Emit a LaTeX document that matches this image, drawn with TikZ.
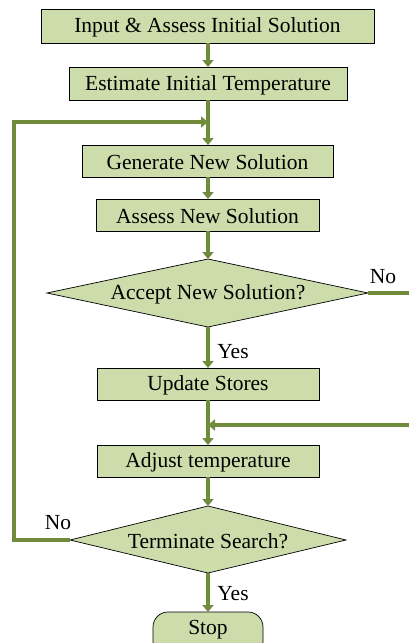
\documentclass[tikz,border=0pt]{standalone}
\usepackage{fontspec}
\setmainfont{Liberation Serif}
\usetikzlibrary{arrows.meta}
\definecolor{boxfill}{HTML}{CCDCAA}
\definecolor{flow}{HTML}{6F8B3B}
\begin{document}
\begin{tikzpicture}[x=1pt,y=-1pt,
  proc/.style={draw=black,line width=0.7pt,fill=boxfill,inner sep=0pt},
  flowline/.style={draw=flow,line width=3.8pt},
  flowarrow/.style={flowline,-{Triangle[length=7pt,width=11pt]}},
  lbl/.style={font=\fontsize{21.5}{24}\selectfont,inner sep=0pt,yshift=-1.5pt}]
\useasboundingbox (0,0) rectangle (409,643);
% boxes
\path[proc] (41,9) rectangle (374,43);
\node[lbl] (n1) at (207.5,26) {Input \& Assess Initial Solution};
\path[proc] (69,67) rectangle (347,100);
\node[lbl] (n2) at (208,83.5) {Estimate Initial Temperature};
\path[proc] (82,145) rectangle (333,177);
\node[lbl] (n3) at (207.5,161) {Generate New Solution};
\path[proc] (96,199) rectangle (319,231);
\node[lbl] (n4) at (207.5,215) {Assess New Solution};
\path[proc] (47,293) -- (208,259) -- (368,293) -- (208,327) -- cycle;
\node[lbl] (d1) at (208,293) {Accept New Solution?};
\path[proc] (97,368) rectangle (319,400);
\node[lbl] (n5) at (208,384) {Update Stores};
\path[proc] (97,445) rectangle (319,477);
\node[lbl] (n6) at (208,461) {Adjust temperature};
\path[proc] (70,540) -- (208,506) -- (346,540) -- (208,573) -- cycle;
\node[lbl] (d2) at (208,540) {Terminate Search?};
\path[proc,rounded corners=15pt] (153,612) rectangle (263,660);
\node[lbl] (stop) at (208,628) {Stop};
% coordinates
\coordinate (b1) at (208,43);
\coordinate (t2) at (208,67);
\coordinate (b2) at (208,100);
\coordinate (t3) at (208,145);
\coordinate (b3) at (208,177);
\coordinate (t4) at (208,199);
\coordinate (b4) at (208,231);
\coordinate (td1) at (208,259);
\coordinate (bd1) at (208,327);
\coordinate (rd1) at (368,293);
\coordinate (t5) at (208,368);
\coordinate (b5) at (208,400);
\coordinate (t6) at (208,445);
\coordinate (b6) at (208,477);
\coordinate (td2) at (208,506);
\coordinate (bd2) at (208,573);
\coordinate (ld2) at (70,540);
\coordinate (tstop) at (208,612);
\coordinate (join1) at (208,122);
\coordinate (join2) at (208,425);
\coordinate (redge1) at (411,293);
\coordinate (redge2) at (411,425);
% connectors
\draw[flowarrow] (b1) -- (t2);
\draw[flowarrow] (b2) -- (t3);
\draw[flowarrow] (b3) -- (t4);
\draw[flowarrow] (b4) -- (td1);
\draw[flowarrow] (bd1) -- (t5);
\draw[flowarrow] (b5) -- (t6);
\draw[flowarrow] (b6) -- (td2);
\draw[flowarrow] (bd2) -- (tstop);
\draw[flowline] (rd1) -- (redge1);
\draw[flowarrow] (redge2) -- (join2);
\draw[flowarrow] (ld2) -| (14,122) -- (join1);
% labels
\node[lbl] (no1) at (383,275) {No};
\node[lbl] (yes1) at (233,350) {Yes};
\node[lbl] (no2) at (58,521) {No};
\node[lbl] (yes2) at (233,592) {Yes};
\end{tikzpicture}
\end{document}
